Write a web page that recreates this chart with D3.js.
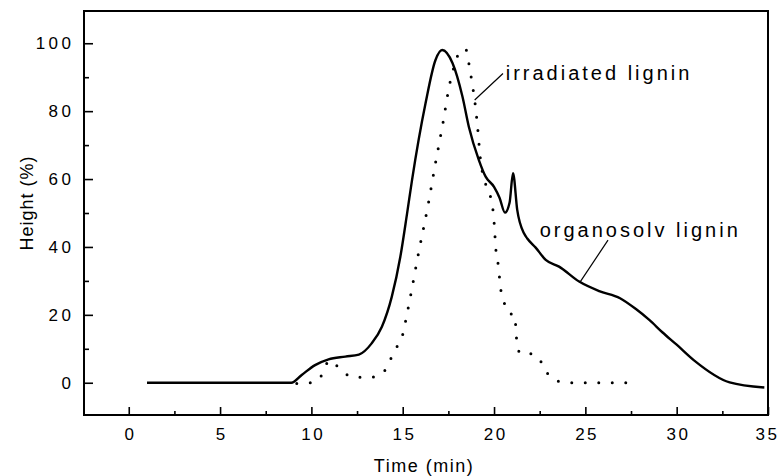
<!DOCTYPE html>
<html>
<head>
<meta charset="utf-8">
<script src="https://cdn.jsdelivr.net/npm/d3@7"></script>
<style>
  body { margin: 0; background: #fff; }
  #chart text { font-family: "Liberation Sans", Arial, sans-serif; fill: #000; }
</style>
</head>
<body>
<div id="chart"></div>
<script>
// organosolv lignin (solid line)
const organoTime = [1, 8.9, 9.47, 10.2, 10.94, 11.86, 12.6, 13.3, 13.86, 14.4, 14.87, 15.24, 15.51, 16.25, 16.79, 17.16, 17.73, 18.27, 18.62, 19.17, 19.54, 20.0, 20.3, 20.6, 20.85, 21.04, 21.27, 21.64, 21.82, 22.28, 22.83, 23.56, 24.66, 25.76, 26.9, 27.77, 28.5, 29.23, 30.0, 30.95, 32.9, 34.8];
const organoHeight = [0, 0, 2.3, 5.2, 6.9, 7.7, 8.3, 11.6, 16.5, 25.3, 37.1, 49.9, 59.7, 82.3, 95, 98, 94.1, 84.3, 75.4, 65.6, 60.7, 57.7, 54.5, 50.1, 53, 61.7, 50.9, 44, 42.5, 39.8, 36.2, 34.2, 29.8, 27.0, 24.9, 21.7, 18.5, 14.8, 11.2, 6.6, 0.1, -1.4];

// irradiated lignin (dotted line)
const irradTime = [9.2, 10.0, 10.63, 10.95, 11.15, 11.63, 12.4, 13.23, 13.9, 14.27, 14.6, 14.96, 15.24, 15.88, 16.39, 16.79, 17.2, 17.56, 17.93, 18.15, 18.47, 18.62, 18.8, 18.95, 19.08, 19.26, 19.5, 19.76, 19.98, 20.12, 20.23, 20.36, 20.54, 20.82, 21.15, 21.2, 21.3, 21.4, 22.1, 22.61, 22.92, 23.56, 24.4, 27.7];
const irradHeight = [-0.2, 0, 2.8, 6.5, 6.2, 3.6, 1.6, 1.6, 2.8, 6.2, 9.9, 13.4, 20.4, 38.6, 52.4, 64.6, 76.4, 87.7, 95, 98, 98, 94.1, 88.2, 82.8, 76.4, 65.6, 59.2, 55.8, 48.9, 38.1, 34.7, 27.8, 23.9, 20.4, 20, 15, 11, 8.7, 8.5, 5.9, 2.8, 0.4, 0, 0];

const xMajor = [0, 5, 10, 15, 20, 25, 30, 35];
const xMinor = [2.5, 7.5, 12.5, 17.5, 22.5, 27.5, 32.5];
const yMajor = [0, 20, 40, 60, 80, 100];
const yMinor = [10, 30, 50, 70, 90];

// label anchors in data units
const labels = [
  { text: "irradiated lignin", t: 20.64, v: 89.2, from: [18.94, 83.3], to: [20.49, 91.1] },
  { text: "organosolv lignin", t: 22.5, v: 43.0, from: [24.69, 29.5], to: [26.24, 42.0] }
];

const W = 780, H = 476;
const margin = { left: 84, right: 768, top: 11, bottom: 415 };

const svg = d3.select("#chart").append("svg")
  .attr("width", W)
  .attr("height", H);

const x = d3.scaleLinear().domain([-2.45, 35]).range([margin.left, margin.right]);
const y = d3.scaleLinear().domain([-9.5, 109.5]).range([margin.bottom, margin.top]);

const xLs = 2.5, yLs = 3.5;

// major + minor ticks, pointing inward
const xAxis = svg.append("g")
  .attr("transform", "translate(0," + margin.bottom + ")")
  .call(d3.axisBottom(x).tickValues(xMajor).tickSizeInner(-8).tickSizeOuter(0).tickPadding(13));
svg.append("g")
  .attr("transform", "translate(0," + margin.bottom + ")")
  .call(d3.axisBottom(x).tickValues(xMinor).tickSizeInner(-4).tickSizeOuter(0).tickFormat(""));

const yAxis = svg.append("g")
  .attr("transform", "translate(" + margin.left + ",0)")
  .call(d3.axisLeft(y).tickValues(yMajor).tickSizeInner(-9).tickSizeOuter(0).tickPadding(13));
svg.append("g")
  .attr("transform", "translate(" + margin.left + ",0)")
  .call(d3.axisLeft(y).tickValues(yMinor).tickSizeInner(-5).tickSizeOuter(0).tickFormat(""));

svg.selectAll(".domain").remove();
svg.selectAll(".tick line").attr("stroke", "#000").attr("stroke-width", 1.6);

xAxis.selectAll(".tick text")
  .style("font-size", "17px")
  .style("letter-spacing", xLs + "px")
  .attr("dx", xLs / 2);
// keep the last label inside the page
xAxis.selectAll(".tick text").filter(d => d === 35).attr("dx", -1);
yAxis.selectAll(".tick text")
  .style("font-size", "17px")
  .style("letter-spacing", yLs + "px")
  .attr("dx", yLs);

// frame
svg.append("rect")
  .attr("x", margin.left)
  .attr("y", margin.top)
  .attr("width", margin.right - margin.left)
  .attr("height", margin.bottom - margin.top)
  .attr("fill", "none")
  .attr("stroke", "#000")
  .attr("stroke-width", 2);

const line = d3.line()
  .curve(d3.curveMonotoneX)
  .x(d => x(d[0]))
  .y(d => y(d[1]));

svg.append("path")
  .datum(d3.zip(irradTime, irradHeight))
  .attr("fill", "none")
  .attr("stroke", "#000")
  .attr("stroke-width", 3)
  .attr("stroke-linecap", "round")
  .attr("stroke-dasharray", "0 13.5")
  .attr("d", line);

svg.append("path")
  .datum(d3.zip(organoTime, organoHeight))
  .attr("fill", "none")
  .attr("stroke", "#000")
  .attr("stroke-width", 2.4)
  .attr("stroke-linejoin", "round")
  .attr("d", line);

// annotations
labels.forEach(l => {
  svg.append("line")
    .attr("x1", x(l.from[0])).attr("y1", y(l.from[1]))
    .attr("x2", x(l.to[0])).attr("y2", y(l.to[1]))
    .attr("stroke", "#000")
    .attr("stroke-width", 1.2);
  svg.append("text")
    .attr("x", x(l.t))
    .attr("y", y(l.v))
    .style("font-size", "20px")
    .style("letter-spacing", "3px")
    .text(l.text);
});

// axis titles
svg.append("text")
  .attr("text-anchor", "middle")
  .attr("x", 424)
  .attr("y", 472)
  .style("font-size", "18px")
  .style("letter-spacing", "1.5px")
  .text("Time (min)");

svg.append("text")
  .attr("text-anchor", "middle")
  .attr("transform", "translate(33,203) rotate(-90)")
  .style("font-size", "18px")
  .style("letter-spacing", "1px")
  .text("Height (%)");
</script>
</body>
</html>
